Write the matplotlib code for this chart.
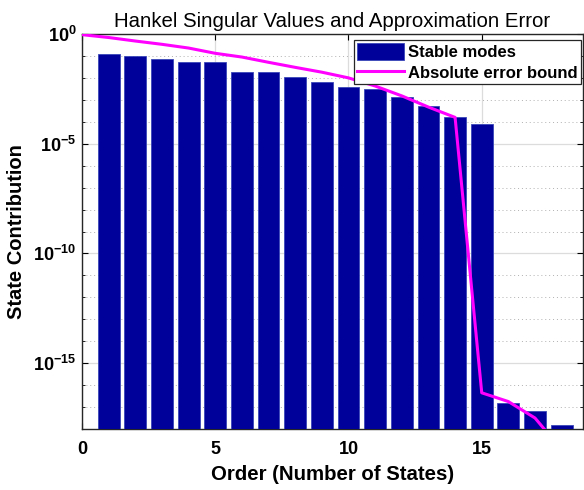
import numpy as np
import matplotlib
matplotlib.use("Agg")
from matplotlib import pyplot as plt
from matplotlib.ticker import FixedLocator, FixedFormatter, NullFormatter

plt.rcParams['font.family'] = ['Liberation Sans', 'DejaVu Sans']
plt.rcParams['mathtext.fontset'] = 'custom'
plt.rcParams['mathtext.rm'] = 'Liberation Sans:bold'
plt.rcParams['mathtext.bf'] = 'Liberation Sans:bold'

# Hankel singular values per state (order 1..18)
orders = np.arange(1, 19)
hsv = [10 ** -0.92, 10 ** -0.98, 10 ** -1.15, 10 ** -1.26, 10 ** -1.29, 10 ** -1.73,
       10 ** -1.73, 10 ** -1.98, 10 ** -2.21, 10 ** -2.42, 10 ** -2.51, 10 ** -2.85,
       10 ** -3.27, 10 ** -3.79, 10 ** -4.11, 10 ** -16.83, 10 ** -17.17, 10 ** -17.80]

# absolute error bound for a reduced model of order 0..18
err_orders = np.arange(0, 19)
err_bound = [10 ** -0.03, 10 ** -0.16, 10 ** -0.32, 10 ** -0.47, 10 ** -0.64, 10 ** -0.88,
             10 ** -1.05, 10 ** -1.29, 10 ** -1.52, 10 ** -1.74, 10 ** -2.0, 10 ** -2.37,
             10 ** -2.82, 10 ** -3.33, 10 ** -3.80, 10 ** -16.35, 10 ** -16.75, 10 ** -17.5,
             10 ** -18.95]

ytick_vals = [1e-15, 1e-10, 1e-5, 1e0]
ytick_labels = [r'$\mathbf{10^{-15}}$', r'$\mathbf{10^{-10}}$', r'$\mathbf{10^{-5}}$', r'$\mathbf{10^{0}}$']
xtick_vals = [0, 5, 10, 15]

fig = plt.figure(figsize=(5.84, 4.90), dpi=100)
ax = fig.add_axes([82 / 584, 1 - 429 / 490, 501 / 584, 395 / 490])

ax.set_yscale('log')
bars = ax.bar(orders, hsv, width=0.82, color='#00009a', edgecolor='#3a46b8', linewidth=0.6,
              label='Stable modes', zorder=3)
line, = ax.plot(err_orders, err_bound, color='#ff00ff', linewidth=2.2,
                label='Absolute error bound', zorder=4)

ax.set_xlim(0, 18.8)
ax.set_ylim(1e-18, 1e0)

ax.xaxis.set_major_locator(FixedLocator(xtick_vals))
ax.yaxis.set_major_locator(FixedLocator(ytick_vals))
ax.yaxis.set_major_formatter(FixedFormatter(ytick_labels))
minor = [10.0 ** -k for k in range(1, 18) if k % 5 != 0]
ax.yaxis.set_minor_locator(FixedLocator(minor))
ax.yaxis.set_minor_formatter(NullFormatter())

ax.grid(True, which='major', color='#dcdcdc', linewidth=0.9, zorder=0)
ax.grid(True, which='minor', axis='y', color='#b0b0b0', linestyle=(0, (1, 3)), linewidth=0.7, zorder=0)

ax.tick_params(which='both', direction='in', top=True, right=True, length=4)
ax.tick_params(which='minor', length=2)
ax.tick_params(axis='x', labelsize=13, pad=9)
ax.tick_params(axis='y', labelsize=13, pad=4)
for lbl in ax.get_xticklabels():
    lbl.set_fontweight('bold')

for sp in ax.spines.values():
    sp.set_linewidth(1.0)
    sp.set_color('#262626')

ax.set_title('Hankel Singular Values and Approximation Error', fontsize=14.7, pad=5)
ax.set_xlabel('Order (Number of States)', fontsize=14.7, fontweight='bold', labelpad=5)
ax.set_ylabel('State Contribution', fontsize=14.5, fontweight='bold', labelpad=5)

leg = ax.legend([bars, line], ['Stable modes', 'Absolute error bound'],
                loc='upper right', bbox_to_anchor=(0.996, 0.985), fancybox=False,
                edgecolor='#262626', framealpha=1, borderpad=0.2, handlelength=2.8,
                handleheight=1.2, handletextpad=0.25, labelspacing=0.2, borderaxespad=0,
                prop={'weight': 'bold', 'size': 12})
leg.get_frame().set_linewidth(0.9)

fig.savefig('out.png', dpi=100)
